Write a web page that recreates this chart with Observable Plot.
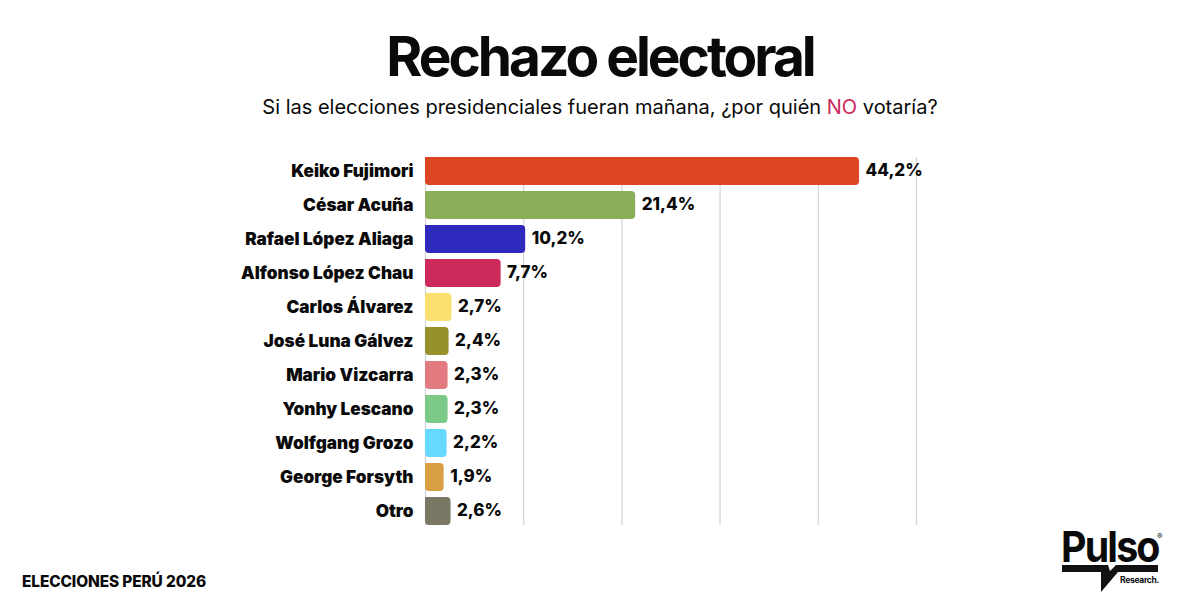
<!DOCTYPE html>
<html lang="es">
<head>
<meta charset="utf-8">
<script src="https://cdn.jsdelivr.net/npm/d3@7"></script>
<script src="https://cdn.jsdelivr.net/npm/@observablehq/plot@0.6"></script>
<style>
  html, body { margin: 0; padding: 0; background: #fff; }
  body { width: 1200px; height: 611px; position: relative; overflow: hidden; font-family: Inter, sans-serif; color: #0a0a0a; }
  #head { height: 140px; text-align: center; position: relative; }
  #title { position: absolute; left: 0; right: 0; top: 21px; font-size: 55px; line-height: 70px; font-weight: 700; letter-spacing: -3px; }
  #sub { position: absolute; left: 0; right: 0; top: 94px; font-size: 20px; line-height: 26px; font-weight: 400; }
  #sub b { color: #cb2a5b; font-weight: 400; }
  #chart svg { display: block; }
  #foot { position: absolute; left: 22px; top: 572px; font-size: 15.4px; line-height: 20px; font-weight: 800; letter-spacing: -0.1px; }
  #logo { position: absolute; left: 1060px; top: 522px; width: 110px; height: 76px; }
  #logo .p { position: absolute; left: 1px; top: -1px; font-size: 43px; line-height: 50px; font-weight: 700; letter-spacing: -2px; transform: scaleX(0.915); transform-origin: left center; }
  #logo .r { position: absolute; left: 60px; top: 53px; font-size: 8.5px; line-height: 10px; font-weight: 700; letter-spacing: -0.3px; }
  #logo .c { position: absolute; left: 97px; top: 9px; font-size: 8px; line-height: 10px; }
  #logo svg { position: absolute; left: 0; top: 0; }
</style>
</head>
<body>
<div id="head">
  <div id="title">Rechazo electoral</div>
  <div id="sub">Si las elecciones presidenciales fueran mañana, ¿por quién <b>NO</b> votaría?</div>
</div>
<div id="chart"></div>
<div id="foot">ELECCIONES PERÚ 2026</div>
<div id="logo">
  <svg width="110" height="76"><path fill="#111" d="M2 43H48L50 49L56 43H98V50H58L41 70V50H2Z"/></svg>
  <div class="p">Pulso</div>
  <div class="r">Research.</div>
  <div class="c">®</div>
</div>
<script>
const candidates = ["Keiko Fujimori", "César Acuña", "Rafael López Aliaga", "Alfonso López Chau", "Carlos Álvarez", "José Luna Gálvez", "Mario Vizcarra", "Yonhy Lescano", "Wolfgang Grozo", "George Forsyth", "Otro"];
const values = [44.2, 21.4, 10.2, 7.7, 2.7, 2.4, 2.3, 2.3, 2.2, 1.9, 2.6];
const colors = ["#dc4623", "#8aae57", "#3029be", "#cb2a5b", "#fbdf6f", "#96902d", "#e27b80", "#7cc988", "#66d9ff", "#d9a043", "#7a7764"];
const gridTicks = [0, 10, 20, 30, 40, 50];

const rows = candidates.map((name, i) => ({name, value: values[i], color: colors[i]}));
const fmt = v => v.toFixed(1).replace(".", ",") + "%";

const plot = Plot.plot({
  width: 1200,
  height: 400,
  marginLeft: 425,
  marginRight: 284,
  marginTop: 11,
  marginBottom: 9,
  x: {domain: [0, 50], axis: null},
  y: {domain: candidates, padding: 0.176, label: null},
  style: {background: "transparent", fontFamily: "Inter, sans-serif"},
  marks: [
    Plot.ruleX(gridTicks, {stroke: "#d4d4d4", strokeWidth: 1.2, insetTop: 6, insetBottom: 6}),
    Plot.axisY({tickSize: 0, tickPadding: 12, fontSize: 17.2, fontWeight: 900, fill: "#0a0a0a", label: null, dy: -0.5}),
    Plot.barX(rows, {x: "value", y: "name", fill: d => d.color, rx2: 4, ry2: 4}),
    Plot.text(rows, {x: "value", y: "name", text: d => fmt(d.value), dx: 6, dy: -0.5, textAnchor: "start", fontSize: 17, fontWeight: 800, fill: "#0a0a0a"})
  ]
});
document.getElementById("chart").appendChild(plot);
</script>
</body>
</html>
